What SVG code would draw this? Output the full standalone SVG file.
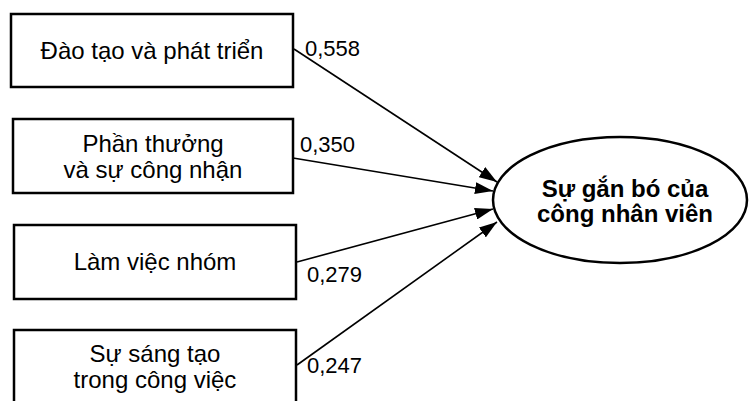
<svg xmlns="http://www.w3.org/2000/svg" width="749" height="401" viewBox="0 0 749 401">
<style>
.box{fill:#fff;stroke:#000;stroke-width:2.5}
.t{font-family:"Liberation Sans",Arial,sans-serif;font-size:24px;fill:#000;text-anchor:middle}
.n{font-family:"Liberation Sans",Arial,sans-serif;font-size:22px;fill:#000}
.b{font-family:"Liberation Sans",Arial,sans-serif;font-size:24px;font-weight:bold;fill:#000;text-anchor:middle}
.c{stroke:#000;stroke-width:1.6;fill:none}
</style>
<defs>
<marker id="ah" markerWidth="18" markerHeight="12" refX="18" refY="6" orient="auto" markerUnits="userSpaceOnUse" viewBox="0 0 18 12">
<path d="M0,0 L18,6 L0,12 Z" fill="#000"/>
</marker>
</defs>
<rect width="749" height="401" fill="#fff"/>
<g id="connectors">
<line class="c" x1="294" y1="49" x2="497" y2="182" marker-end="url(#ah)"/>
<line class="c" x1="293" y1="158" x2="493" y2="191" marker-end="url(#ah)"/>
<line class="c" x1="297" y1="262" x2="493" y2="209" marker-end="url(#ah)"/>
<line class="c" x1="297" y1="365" x2="497" y2="222" marker-end="url(#ah)"/>
<text class="n" x="305" y="56">0,558</text>
<text class="n" x="300" y="152">0,350</text>
<text class="n" x="307" y="282">0,279</text>
<text class="n" x="307" y="373">0,247</text>
</g>
<g id="n1">
<rect class="box" x="11" y="14" width="282" height="73"/>
<text class="t" x="152" y="59">Đào tạo và phát triển</text>
</g>
<g id="n2">
<rect class="box" x="13" y="119" width="280" height="74"/>
<text class="t" x="153" y="152">Phần thưởng</text>
<text class="t" x="153" y="178">và sự công nhận</text>
</g>
<g id="n3">
<rect class="box" x="14" y="225" width="282" height="74"/>
<text class="t" x="155" y="270">Làm việc nhóm</text>
</g>
<g id="n4">
<rect class="box" x="14" y="330" width="282" height="80"/>
<text class="t" x="155" y="362">Sự sáng tạo</text>
<text class="t" x="155" y="388">trong công việc</text>
</g>
<g id="n5">
<ellipse cx="620" cy="200" rx="127" ry="63" fill="#fff" stroke="#000" stroke-width="2.5"/>
<text class="b" x="625" y="197">Sự gắn bó của</text>
<text class="b" x="625" y="222">công nhân viên</text>
</g>
</svg>
